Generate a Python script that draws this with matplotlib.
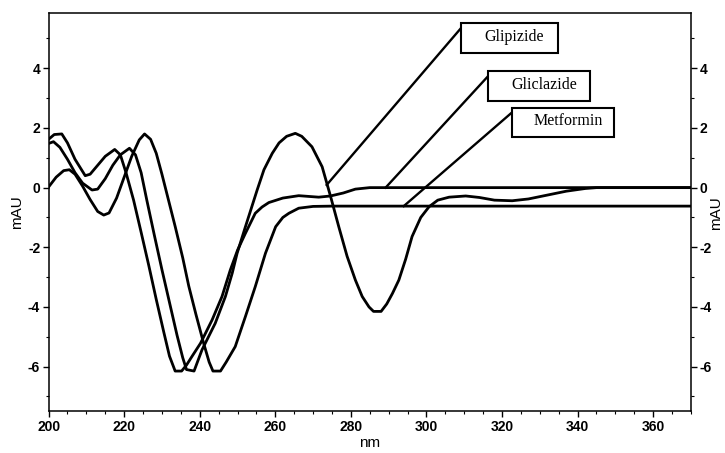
import numpy as np
import matplotlib
matplotlib.use('Agg')
import matplotlib.pyplot as plt
from matplotlib.patches import Rectangle
from matplotlib.ticker import MultipleLocator

plt.rcParams['font.family'] = ['Liberation Sans', 'DejaVu Sans']
plt.rcParams['axes.unicode_minus'] = False

# ---- data ----
glipizide_nm = [200, 201.3, 203, 205, 207, 209, 211.5, 213, 215, 217, 219, 221.4, 223, 224.5,
                226, 228, 230, 232, 234, 235.5, 236.5, 238.5, 240.6, 244.1, 246.8, 248.6, 249.9,
                252, 255.2, 257, 259.2, 261, 263, 265.3, 267, 269.7, 272.4, 274.6, 276.8, 279,
                281.2, 283, 284.8, 286, 288, 289.5, 291, 292.7, 294.5, 296.2, 298.5, 300.7, 303,
                306, 310.4, 314, 318, 322.7, 327, 332, 337, 342, 345, 370]
glipizide_mau = [1.48, 1.54, 1.35, 0.95, 0.5, 0.15, -0.08, -0.05, 0.3, 0.75, 1.1, 1.32, 1.1, 0.5,
                 -0.42, -1.6, -2.75, -3.85, -4.95, -5.7, -6.1, -6.15, -5.44, -4.55, -3.65, -2.87, -2.2,
                 -1.35, -0.08, 0.6, 1.15, 1.5, 1.72, 1.82, 1.72, 1.37, 0.7, -0.28, -1.31, -2.3,
                 -3.1, -3.65, -4.0, -4.15, -4.15, -3.9, -3.55, -3.1, -2.4, -1.64, -1.0, -0.64, -0.42,
                 -0.32, -0.28, -0.33, -0.42, -0.44, -0.38, -0.25, -0.12, -0.03, 0.0, 0.0]

gliclazide_nm = [200, 201.5, 203.5, 205, 207, 209.7, 211, 213, 215, 217.5, 219, 220.5, 222.5,
                 224.5, 226.5, 228.5, 230.5, 232, 233.5, 235.2, 236.5, 238, 240.2, 243.3, 245.9,
                 248.1, 250, 252.1, 254.7, 256.5, 258.3, 262, 266.2, 271.5, 274.6, 278, 281.2,
                 285, 370]
gliclazide_mau = [1.62, 1.78, 1.8, 1.5, 0.95, 0.4, 0.45, 0.75, 1.05, 1.28, 1.1, 0.5, -0.42,
                  -1.5, -2.6, -3.75, -4.85, -5.65, -6.15, -6.15, -5.95, -5.65, -5.22, -4.43, -3.65,
                  -2.76, -2.1, -1.53, -0.86, -0.65, -0.5, -0.35, -0.27, -0.32, -0.28, -0.18, -0.05,
                  0.0, 0.0]

metformin_nm = [200, 202, 204, 205.5, 207, 209, 211, 213, 214.6, 216, 218, 220, 222, 224, 225.4,
                227, 228.5, 230, 231.5, 233.5, 235.5, 237.1, 239, 241, 242.5, 243.5, 245.5, 247,
                249.4, 252.1, 254.7, 257.4, 260.1, 262, 263.6, 266.2, 270, 275, 370]
metformin_mau = [0.02, 0.35, 0.57, 0.6, 0.45, 0.05, -0.4, -0.8, -0.92, -0.85, -0.35, 0.35, 1.05,
                 1.6, 1.8, 1.62, 1.15, 0.45, -0.3, -1.3, -2.35, -3.3, -4.25, -5.2, -5.85, -6.15,
                 -6.15, -5.85, -5.33, -4.32, -3.32, -2.2, -1.31, -1.0, -0.86, -0.69, -0.63, -0.62,
                 -0.62]

labels = ['Glipizide', 'Gliclazide', 'Metformin']
# point on each curve where the leader line ends
label_targets = [(273.6, 0.09), (289.2, 0.0), (294.0, -0.62)]

fig = plt.figure(figsize=(7.25, 4.53), dpi=100)
ax = fig.add_axes([0.067, 0.092, 0.886, 0.879])

for xs, ys in [(glipizide_nm, glipizide_mau), (gliclazide_nm, gliclazide_mau),
               (metformin_nm, metformin_mau)]:
    ax.plot(xs, ys, color='black', lw=2.0, solid_joinstyle='round')

ax.set_xlim(200, 370)
ax.set_ylim(-7.5, 5.85)

# label boxes (x0, y0 in data units, width, height)
boxes = [(309.1, 4.53, 25.8, 0.99), (316.3, 2.91, 27.1, 1.0), (322.6, 1.69, 27.1, 0.99)]
for name, (bx, by, bw, bh), target in zip(labels, boxes, label_targets):
    ax.add_patch(Rectangle((bx, by), bw, bh, fill=True, fc='white', ec='black', lw=1.5, zorder=4))
    ax.text(bx + bw * 0.55, by + bh * 0.54, name, ha='center', va='center',
            family='Liberation Serif', fontsize=11.5, zorder=5)
    ax.plot([bx + 0.4, target[0]], [by + bh - 0.12, target[1]], color='black', lw=1.7, zorder=3)

# axes styling
for s in ax.spines.values():
    s.set_linewidth(1.1)
ax.xaxis.set_major_locator(MultipleLocator(20))
ax.xaxis.set_minor_locator(MultipleLocator(5))
ax.yaxis.set_major_locator(MultipleLocator(2))
ax.yaxis.set_minor_locator(MultipleLocator(1))
ax.tick_params(which='major', direction='out', length=4, width=1, labelsize=10,
               right=True, labelright=True, pad=2)
ax.tick_params(which='minor', direction='out', length=2, width=0.8, right=True)
for lab in ax.get_xticklabels() + ax.get_yticklabels():
    lab.set_fontweight('bold')

ax.set_xlabel('nm', fontsize=11, labelpad=2)
ax.set_ylabel('mAU', fontsize=11, labelpad=3)
fig.text(0.988, 0.53, 'mAU', rotation=90, ha='center', va='center', fontsize=11)

fig.savefig('out.png', dpi=100)
